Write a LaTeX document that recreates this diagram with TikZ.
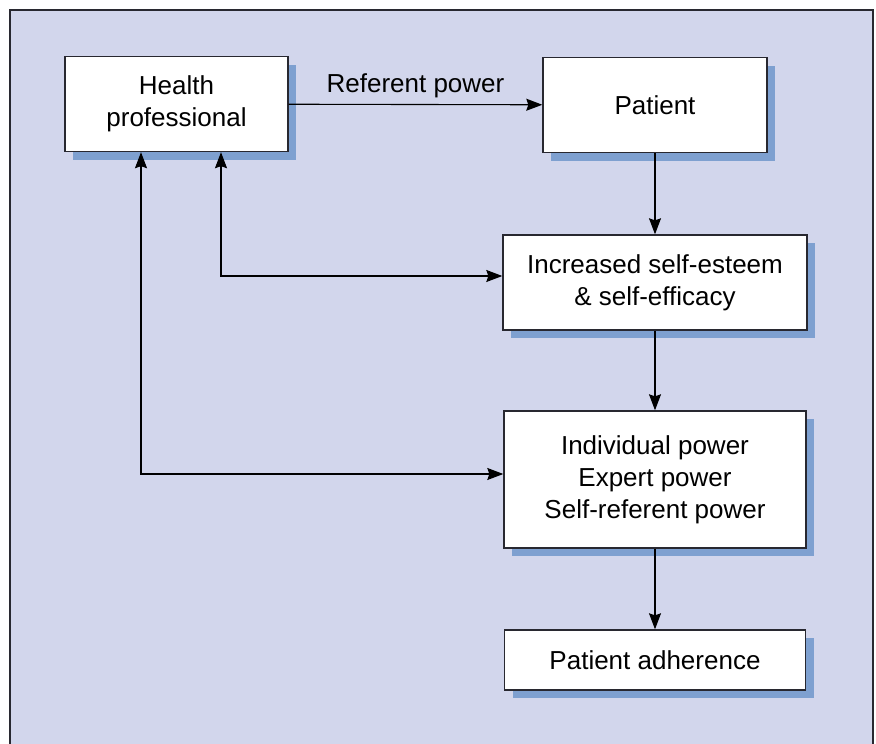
\documentclass[tikz,border=0pt]{standalone}
\usepackage{fontspec}
\setmainfont{Liberation Sans}
\usetikzlibrary{arrows.meta,shadows}

\definecolor{panel}{RGB}{210,214,236}
\definecolor{shade}{RGB}{126,160,208}
\definecolor{edge}{RGB}{40,40,48}

\begin{document}
\begin{tikzpicture}[x=1pt,y=-1pt,
        box/.style={draw=edge, line width=1.4pt, fill=white, inner sep=0pt,
            align=center, font=\fontsize{26}{32}\selectfont,
            drop shadow={shadow xshift=8pt, shadow yshift=-8pt, fill=shade, opacity=1}},
        arr/.style={line width=1.1pt, draw=black, -{Stealth[length=16pt,width=12pt,inset=2pt]}},
        twoway/.style={line width=1.1pt, draw=black,
            {Stealth[length=16pt,width=12pt,inset=2pt]}-{Stealth[length=16pt,width=12pt,inset=2pt]}}]
        \useasboundingbox (0,0) rectangle (876,744);
        \fill[panel] (10,10) rectangle (873,744);
        \draw[line width=1.6pt, edge] (10,744) -- (10,10) -- (873,10) -- (873,744);

        \node[box, minimum width=223pt, minimum height=95pt] (hp) at (176.5,104) {Health\\professional};
        \node[box, minimum width=224pt, minimum height=95pt] (pat) at (655,105) {Patient};
        \node[box, minimum width=304pt, minimum height=95pt] (est) at (655,282.5) {Increased self-esteem\\\& self-efficacy};
        \node[box, minimum width=302pt, minimum height=137pt] (pow) at (655,479.5) {Individual power\\Expert power\\Self-referent power};
        \node[box, minimum width=301pt, minimum height=60pt] (adh) at (655,660) {Patient adherence};

        \coordinate (bend1) at (221,276);
        \coordinate (bend2) at (141,474);

        \draw[arr] (hp) -- (pat) node[midway, above=3pt, font=\fontsize{26}{32}\selectfont] {Referent power};
        \draw[arr] (pat) -- (est);
        \draw[arr] (est) -- (pow);
        \draw[arr] (pow) -- (adh);
        \draw[twoway] (hp.south -| bend1) -- (bend1) -- (bend1 -| est.west);
        \draw[twoway] (hp.south -| bend2) -- (bend2) -- (bend2 -| pow.west);
    \end{tikzpicture}
\end{document}
